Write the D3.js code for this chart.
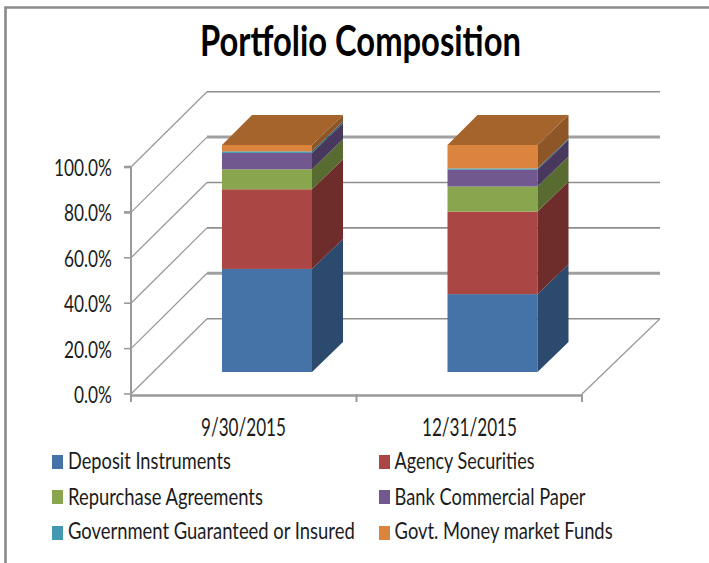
<!DOCTYPE html>
<html><head><meta charset="utf-8">
<script src="https://cdn.jsdelivr.net/npm/d3@7/dist/d3.min.js"></script>
<style>html,body{margin:0;padding:0;background:#fff}svg{display:block}</style>
</head><body><svg id="c" width="709" height="563"></svg>
<script>
const categories = ["9/30/2015", "12/31/2015"];
const seriesNames = ["Deposit Instruments","Agency Securities","Repurchase Agreements","Bank Commercial Paper","Government Guaranteed or Insured","Govt. Money market Funds"];
const deposit = [45.4, 34.3];
const agency = [35.1, 36.4];
const repo = [8.8, 11.0];
const commercial = [7.2, 7.4];
const guaranteed = [0.7, 0.6];
const moneyMarket = [2.8, 10.3];
const yTicks = [0, 20, 40, 60, 80, 100];
const frontColors = ["#4572A7","#AA4643","#89A54E","#71588F","#4198AF","#DB843D"];
const sideColors = ["#2C4A6E","#6E2D2B","#586B31","#48385D","#296373","#8E5627"];
const topColor = "#A5642C";

const series = [deposit, agency, repo, commercial, guaranteed, moneyMarket];
const svg = d3.select("#c");
const FONT = "Lato,'Open Sans',sans-serif";
const INK = "#1c1c1c";

const x = d3.scaleBand().domain(categories).range([131, 582]);
const y = d3.scaleLinear().domain([0, 100]).range([394, 167]);
const wallDepth = 76, wallRise = 75.3, barNear = 22, barDepth = 30;
const barWidth = 90, barInset = 91, wallRight = 660;

// Narrow text to the measured width by a horizontal scale, so its box stays true.
function label(parent, txt, px, py, size, width, weight) {
  const t = parent.append("text").attr("x",0).attr("y",0)
    .attr("font-family",FONT).attr("font-size",size).attr("fill",weight?"#000":INK)
    .attr("font-weight",weight||400).text(txt);
  const natural = t.node().getComputedTextLength();
  t.attr("transform",`translate(${px},${py}) scale(${width/natural},1)`);
  return t;
}

// frame
svg.append("path").attr("d","M5.5 563V7.5H709").attr("fill","none").attr("stroke","#8a8a8a").attr("stroke-width",2.6);

// walls and floor
const gridWeight = {0:1.4, 20:3, 40:1.7, 60:1.7, 80:3, 100:1.4};
const grid = svg.append("g").attr("fill","none").attr("stroke","#8e8e8e");
yTicks.forEach(t => {
  const by = y(t)-wallRise;
  grid.append("line").attr("x1",131+wallDepth).attr("x2",wallRight).attr("y1",by).attr("y2",by)
    .attr("stroke-width",gridWeight[t]).attr("stroke",gridWeight[t]>2?"#a0a0a0":"#8e8e8e");
  grid.append("line").attr("x1",131).attr("y1",y(t)).attr("x2",131+wallDepth).attr("y2",by).attr("stroke-width",1.3).attr("stroke","#9a9a9a");
});
grid.append("path").attr("d",`M${wallRight} ${y(0)-wallRise}L${x.range()[1]} ${y(0)}`).attr("stroke-width",1.3).attr("stroke","#9a9a9a");

// axes
const axisLine = svg.append("g").attr("stroke","#9a9a9a").attr("stroke-width",2);
axisLine.append("line").attr("x1",131).attr("x2",131).attr("y1",y(100)).attr("y2",402);
axisLine.append("line").attr("x1",130).attr("x2",x.range()[1]).attr("y1",y(0)+1.5).attr("y2",y(0)+1.5).attr("stroke-width",2.4);
yTicks.forEach(t=>axisLine.append("line").attr("x1",124).attr("x2",131).attr("y1",y(t)).attr("y2",y(t)).attr("stroke-width",t>=80?2.6:1.6));
[x.range()[0]+x.bandwidth(), x.range()[1]].forEach(p=>axisLine.append("line").attr("x1",p).attr("x2",p).attr("y1",394).attr("y2",402));

// bars
categories.forEach((c,i)=>{
  const g = svg.append("g");
  const x0 = x(c)+barInset, x1 = x0+barWidth;
  const fy = v => y(v)-barNear;
  let acc = 0;
  series.forEach((s,k)=>{
    const a = acc, b = acc + s[i]; acc = b;
    g.append("rect").attr("x",x0).attr("y",fy(b)).attr("width",barWidth).attr("height",fy(a)-fy(b)).attr("fill",frontColors[k]);
    g.append("path").attr("d",`M${x1} ${fy(a)}L${x1+barDepth+1} ${fy(a)-barDepth}L${x1+barDepth+1} ${fy(b)-barDepth}L${x1} ${fy(b)}Z`).attr("fill",sideColors[k]);
  });
  g.append("path").attr("d",`M${x0} ${fy(acc)}L${x0+barDepth} ${fy(acc)-barDepth}L${x1+barDepth+1} ${fy(acc)-barDepth}L${x1} ${fy(acc)}Z`).attr("fill",topColor);
});

// text
label(svg,"Portfolio Composition",200,56,42,321,700);
const yLabelWidth = {0:38, 20:48, 40:48, 60:48, 80:48, 100:58};
yTicks.forEach(t=>label(svg,t.toFixed(1)+"%",112-yLabelWidth[t],y(t)+9,23,yLabelWidth[t]));
const catStart = [201, 422], catWidth = [85, 95];
categories.forEach((c,i)=>label(svg,c,catStart[i],436,25,catWidth[i]));

const swatchX = [52, 379], textX = [68, 394.6];
const swatchTop = [455, 490, 526], textBase = [469, 505, 539];
const legendWidth = [163, 140, 195, 191, 287, 218];
seriesNames.forEach((n,k)=>{
  const col = k%2, row = Math.floor(k/2);
  svg.append("rect").attr("x",swatchX[col]).attr("y",swatchTop[row]).attr("width",11).attr("height",14).attr("fill",frontColors[k]);
  label(svg,n,textX[col],textBase[row],24,legendWidth[k]);
});
</script></body></html>
